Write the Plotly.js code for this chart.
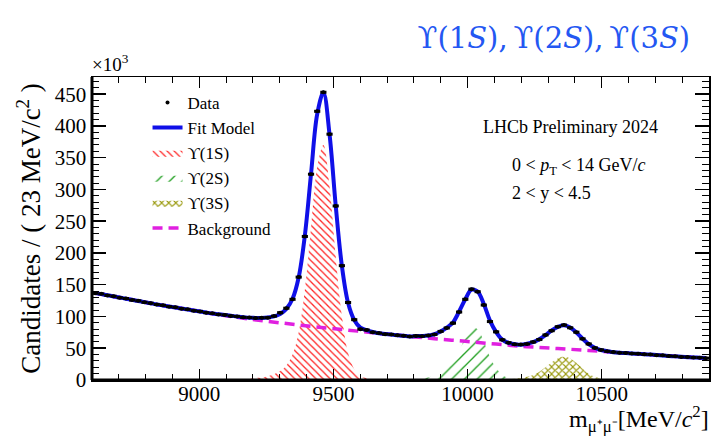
<!DOCTYPE html>
<html>
<head>
<meta charset="utf-8">
<script src="https://cdn.plot.ly/plotly-3.0.1.min.js"></script>
<style>html,body{margin:0;padding:0;background:#fff;}#chart{width:713px;height:440px;}</style>
</head>
<body>
<div id="chart"></div>
<script>
// Bin centres (23 MeV bins), MeV/c^2
const binMass = [
 8611.5, 8634.5, 8657.5, 8680.5, 8703.5, 8726.5, 8749.5, 8772.5, 8795.5, 8818.5,
 8841.5, 8864.5, 8887.5, 8910.5, 8933.5, 8956.5, 8979.5, 9002.5, 9025.5, 9048.5,
 9071.5, 9094.5, 9117.5, 9140.5, 9163.5, 9186.5, 9209.5, 9232.5, 9255.5, 9278.5,
 9301.5, 9324.5, 9347.5, 9370.5, 9393.5, 9416.5, 9439.5, 9462.5, 9485.5, 9508.5,
 9531.5, 9554.5, 9577.5, 9600.5, 9623.5, 9646.5, 9669.5, 9692.5, 9715.5, 9738.5,
 9761.5, 9784.5, 9807.5, 9830.5, 9853.5, 9876.5, 9899.5, 9922.5, 9945.5, 9968.5,
 9991.5, 10014.5, 10037.5, 10060.5, 10083.5, 10106.5, 10129.5, 10152.5, 10175.5, 10198.5,
 10221.5, 10244.5, 10267.5, 10290.5, 10313.5, 10336.5, 10359.5, 10382.5, 10405.5, 10428.5,
 10451.5, 10474.5, 10497.5, 10520.5, 10543.5, 10566.5, 10589.5, 10612.5, 10635.5, 10658.5,
 10681.5, 10704.5, 10727.5, 10750.5, 10773.5, 10796.5, 10819.5, 10842.5, 10865.5, 10888.5
];
// Data candidates (x10^3)
const dataCounts = [
 136.5, 135.6, 133.1, 131.9, 129.5, 128.3, 125.9, 124.7, 122.3, 121.0,
 118.8, 117.6, 115.5, 114.5, 112.3, 111.2, 109.1, 108.0, 106.0, 104.9,
 103.2, 102.5, 100.9, 100.1, 98.6, 98.3, 97.5, 97.9, 98.1, 100.6,
 106, 113, 127, 162, 226, 324, 423, 453, 387, 274,
 180, 122, 95, 80, 78.8, 75.2, 73.8, 72.2, 71.7, 70.3,
 69.7, 68.4, 69.4, 69.0, 70.2, 71.7, 76.5, 81.9, 89.5, 107,
 127, 143, 139, 118, 92, 75.8, 63.2, 58.8, 56.2, 55.8,
 56.7, 59.8, 63.7, 70.9, 77.6, 83.9, 86.5, 82.2, 75.3, 64.8,
 56.8, 50.5, 47.4, 45.1, 43.9, 42.8, 42.6, 41.6, 41.4, 40.4,
 40.1, 39.1, 38.8, 37.7, 37.4, 36.3, 36.1, 35.3, 35.2, 34.4
];
// Full fit model (x10^3)
const fitModel = [
 137, 135.2, 133.4, 131.6, 129.8, 128, 126.2, 124.4, 122.6, 120.8,
 119, 117.4, 115.8, 114.2, 112.6, 111, 109.4, 107.8, 106.2, 104.6,
 103.5, 102.3, 101.2, 99.8, 98.9, 98, 97.8, 97.6, 98.4, 100.2,
 104, 111.9, 127.8, 161.7, 227.6, 324.5, 418.5, 452.5, 386.5, 274.5,
 179.5, 121.5, 94.5, 82.5, 78.5, 75.5, 73.5, 72.5, 71.5, 70.5,
 69.5, 68.6, 69.2, 69.3, 69.9, 72, 76.2, 82.4, 90.5, 107.8,
 127, 142.2, 139.4, 119.6, 93.5, 75.5, 63.5, 58.5, 56.5, 55.5,
 57, 59.5, 64, 70.5, 78, 83.5, 86, 82.6, 74.9, 65.2,
 56.5, 50.8, 47.1, 45.4, 43.7, 43, 42.4, 41.8, 41.2, 40.6,
 40, 39.3, 38.6, 37.9, 37.2, 36.5, 36, 35.5, 35, 34.5
];
// Background component
const bkgMass = [8611.5, 8726.5, 8841.5, 8956.5, 9071.5, 9186.5, 9301.5, 9416.5, 9531.5, 9646.5, 9761.5,
 9876.5, 9991.5, 10106.5, 10221.5, 10336.5, 10451.5, 10566.5, 10681.5, 10796.5, 10888.5];
const bkgCounts = [137, 128, 119, 111, 103, 96, 90, 84.5, 79.5, 74.5, 69.5,
 65, 61, 56.5, 52.5, 49.5, 46.5, 43, 40, 36.5, 34.5];
// Upsilon(1S) component
const ups1Mass = [9071.5, 9094.5, 9117.5, 9140.5, 9163.5, 9186.5, 9209.5, 9232.5, 9255.5, 9278.5,
 9301.5, 9324.5, 9347.5, 9370.5, 9393.5, 9416.5, 9439.5, 9462.5, 9485.5, 9508.5,
 9531.5, 9554.5, 9577.5, 9600.5, 9623.5, 9646.5, 9669.5];
const ups1Counts = [0, 0.7, 1, 1, 1.5, 2, 3, 4, 6, 9,
 14, 23, 40, 75, 142, 240, 335, 370, 305, 194,
 100, 43, 17, 6, 3, 1, 0];
// Upsilon(2S) component
const ups2Mass = [9784.5, 9807.5, 9830.5, 9853.5, 9876.5, 9899.5, 9922.5, 9945.5, 9968.5, 9991.5,
 10014.5, 10037.5, 10060.5, 10083.5, 10106.5, 10129.5, 10152.5, 10175.5, 10198.5];
const ups2Counts = [0, 1, 2.5, 4, 7, 12, 19, 28, 46, 66,
 82, 80, 61, 36, 19, 8, 3, 1, 0];
// Upsilon(3S) component
const ups3Mass = [10129.5, 10152.5, 10175.5, 10198.5, 10221.5, 10244.5, 10267.5, 10290.5, 10313.5, 10336.5,
 10359.5, 10382.5, 10405.5, 10428.5, 10451.5, 10474.5, 10497.5, 10520.5, 10543.5];
const ups3Counts = [0, 1, 2, 3, 5, 8, 13, 20, 28, 34,
 37, 34, 27, 18, 10, 5, 2, 1, 0];

const xTickVals = [9000, 9500, 10000, 10500];
const xTickText = ['9000', '9500', '10000', '10500'];
const yTickVals = [0, 50, 100, 150, 200, 250, 300, 350, 400, 450];
const yTickText = ['0', '50', '100', '150', '200', '250', '300', '350', '400', '450'];

const serif = 'Liberation Serif, Times New Roman, serif';
const halfBin = 11.5;

const traces = [
 {x: ups1Mass, y: ups1Counts, name: 'ϒ(1S)', type: 'scatter', mode: 'lines', fill: 'tozeroy',
  line: {width: 0, shape: 'spline', color: 'rgba(255,0,0,0)'}, fillcolor: 'rgba(255,255,255,0)',
  fillpattern: {shape: '\\', fgcolor: '#ff2020', bgcolor: 'rgba(255,255,255,0)', size: 5, solidity: 0.25},
  legendrank: 3},
 {x: ups2Mass, y: ups2Counts, name: 'ϒ(2S)', type: 'scatter', mode: 'lines', fill: 'tozeroy',
  line: {width: 0, shape: 'spline', color: 'rgba(0,160,0,0)'}, fillcolor: 'rgba(255,255,255,0)',
  fillpattern: {shape: '/', fgcolor: '#22a022', bgcolor: 'rgba(255,255,255,0)', size: 9, solidity: 0.15},
  legendrank: 4},
 {x: ups3Mass, y: ups3Counts, name: 'ϒ(3S)', type: 'scatter', mode: 'lines', fill: 'tozeroy',
  line: {width: 0, shape: 'spline', color: 'rgba(160,160,0,0)'}, fillcolor: 'rgba(255,255,255,0)',
  fillpattern: {shape: 'x', fgcolor: '#9a9a10', bgcolor: 'rgba(255,255,255,0)', size: 5, solidity: 0.4},
  legendrank: 5},
 {x: bkgMass, y: bkgCounts, name: 'Background', type: 'scatter', mode: 'lines',
  line: {color: '#e020e0', width: 3.5, dash: '10px,6px', shape: 'spline'}, legendrank: 6},
 {x: binMass, y: fitModel, name: 'Fit Model', type: 'scatter', mode: 'lines',
  line: {color: '#1010e8', width: 4, shape: 'spline'}, legendrank: 2},
 {x: binMass, y: dataCounts, name: 'Data', type: 'scatter', mode: 'markers',
  marker: {color: 'black', size: 4},
  error_x: {type: 'constant', value: halfBin, color: 'black', thickness: 3, width: 0},
  legendrank: 1}
];

const layout = {
 width: 713, height: 440,
 margin: {l: 92, r: 4, t: 77, b: 60},
 paper_bgcolor: 'white', plot_bgcolor: 'white',
 font: {family: serif, color: 'black'},
 title: {text: 'ϒ(1<i>S</i>),\u2009ϒ(2<i>S</i>),\u2009ϒ(3<i>S</i>)', x: 0.968, xanchor: 'right', y: 0.915, yanchor: 'middle',
  font: {family: 'DejaVu Serif, serif', size: 29, color: '#2457f2'}},
 showlegend: true,
 legend: {x: 0.09, y: 0.974, xanchor: 'left', yanchor: 'top', bgcolor: 'rgba(0,0,0,0)',
  font: {family: serif, size: 17, color: 'black'}, traceorder: 'normal', itemwidth: 30},
 xaxis: {range: [8600, 10900], tickmode: 'array', tickvals: xTickVals, ticktext: xTickText,
  ticks: 'inside', ticklen: 11, tickwidth: 1.5, tickcolor: 'black', ticklabelstandoff: -6,
  minor: {dtick: 100, tick0: 0, ticks: 'inside', ticklen: 6, tickwidth: 1, tickcolor: 'black'},
  showline: true, linecolor: 'black', linewidth: 1.5, mirror: 'allticks',
  showgrid: false, zeroline: false, tickfont: {family: serif, size: 21}},
 yaxis: {range: [0, 477], tickmode: 'array', tickvals: yTickVals, ticktext: yTickText,
  ticks: 'inside', ticklen: 14, tickwidth: 1.5, tickcolor: 'black',
  minor: {dtick: 10, tick0: 0, ticks: 'inside', ticklen: 7, tickwidth: 1, tickcolor: 'black'},
  showline: true, linecolor: 'black', linewidth: 1.5, mirror: 'allticks',
  showgrid: false, zeroline: false, tickfont: {family: serif, size: 21},
  title: {text: 'Candidates / ( 23 MeV/c<sup>2</sup> )', font: {family: serif, size: 27}, standoff: 6}},
 shapes: [
  {type: 'line', xref: 'paper', yref: 'paper', x0: 0, x1: 0, y0: 0, y1: 1, line: {color: 'black', width: 3}},
  {type: 'line', xref: 'paper', yref: 'paper', x0: 0, x1: 1, y0: 0, y1: 0, line: {color: 'black', width: 3}}
 ],
 annotations: [
  {text: '×10<sup>3</sup>', xref: 'paper', yref: 'paper', x: -0.004, y: 1.0, xanchor: 'left', yanchor: 'bottom',
   showarrow: false, font: {family: serif, size: 19}},
  {text: 'm<sub>μ⁺μ⁻</sub>[MeV/<i>c</i><sup>2</sup>]', xref: 'paper', yref: 'paper', x: 1.004, y: -0.13,
   xanchor: 'right', yanchor: 'middle', showarrow: false, font: {family: serif, size: 24}},
  {text: 'LHCb Preliminary 2024', xref: 'paper', yref: 'paper', x: 0.775, y: 0.834,
   xanchor: 'center', yanchor: 'middle', showarrow: false, font: {family: serif, size: 18}},
  {text: '0 &lt; <i>p</i><sub>T</sub> &lt; 14 GeV/<i>c</i>', xref: 'paper', yref: 'paper', x: 0.678, y: 0.706,
   xanchor: 'left', yanchor: 'middle', showarrow: false, font: {family: serif, size: 18}},
  {text: '2 &lt; y &lt; 4.5', xref: 'paper', yref: 'paper', x: 0.678, y: 0.617,
   xanchor: 'left', yanchor: 'middle', showarrow: false, font: {family: serif, size: 18}}
 ]
};

Plotly.newPlot('chart', traces, layout, {displayModeBar: false, staticPlot: true});
</script>
</body>
</html>
